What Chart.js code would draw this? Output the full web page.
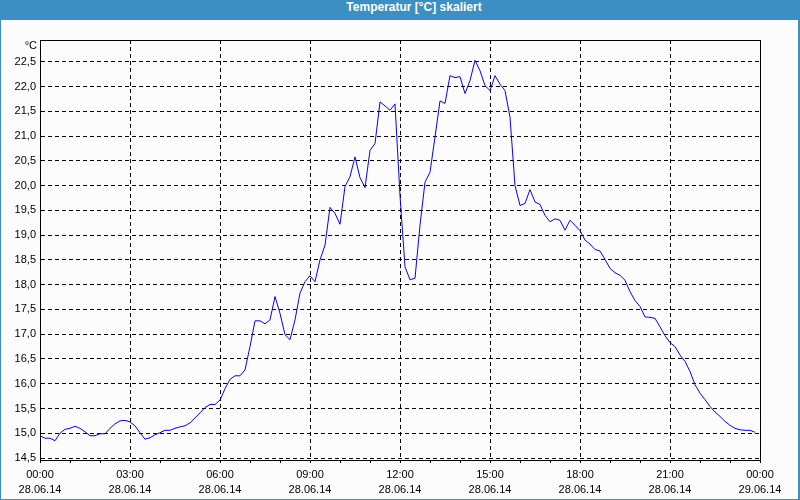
<!DOCTYPE html>
<html>
<head>
<meta charset="utf-8">
<script src="https://cdn.jsdelivr.net/npm/chart.js@4"></script>
<style>
  html, body { margin: 0; padding: 0; }
  #wrap { position: relative; width: 800px; height: 500px; background: #fbfcfb; overflow: hidden; }
  #frame { position: absolute; left: 0; top: 0; width: 797px; height: 499px; border-left: 1px solid #3b8fc3; border-right: 2px solid #3b8fc3; border-bottom: 1px solid #3b8fc3; box-sizing: content-box; pointer-events: none; }
  #titlebar { position: absolute; left: 0; top: 0; width: 800px; height: 20px; background: #3b8fc3; }
  #title { position: absolute; left: 0; top: 0; width: 828px; height: 20px; line-height: 20px; text-align: center; color: #fff; font: bold 12px "Liberation Sans", Arial, sans-serif; }
  #unit { position: absolute; left: 0; top: 39px; width: 37px; text-align: right; font: 11px "Liberation Sans", Arial, sans-serif; color: #000; }
  #cv { position: absolute; left: 0; top: 0; }
</style>
</head>
<body>
<div id="wrap">
  <canvas id="cv" width="800" height="500"></canvas>
  <div id="frame"></div>
  <div id="titlebar"></div>
  <div id="title">Temperatur [°C] skaliert</div>
  <div id="unit">°C</div>
</div>
<script>
// Time of each sample in minutes after 28.06.14 00:00
const minutes = [
  0, 10, 20, 30, 40, 50, 60, 70, 80, 90, 100, 110,
  120, 130, 140, 150, 160, 170, 180, 190, 200, 210, 220, 230,
  240, 250, 260, 270, 280, 290, 300, 310, 320, 330, 340, 350,
  360, 370, 380, 390, 400, 410, 420, 430, 440, 450, 460, 470,
  480, 490, 500, 510, 520, 530, 540, 550, 560, 570, 580, 590,
  600, 610, 620, 630, 640, 650, 660, 670, 680, 690, 700, 710,
  720, 730, 740, 750, 760, 770, 780, 790, 800, 810, 820, 830,
  840, 850, 860, 870, 880, 890, 900, 910, 920, 930, 940, 950,
  960, 970, 980, 990, 1000, 1010, 1020, 1030, 1040, 1050, 1060, 1070,
  1080, 1090, 1100, 1110, 1120, 1130, 1140, 1150, 1160, 1170, 1180, 1190,
  1200, 1210, 1220, 1230, 1240, 1250, 1260, 1270, 1280, 1290, 1300, 1310,
  1320, 1330, 1340, 1350, 1360, 1370, 1380, 1390, 1400, 1410, 1420, 1430
];
// Temperature in °C
const temperature = [
  14.95, 14.90, 14.90, 14.85, 15.00, 15.08, 15.10, 15.14, 15.10, 15.03, 14.95, 14.95,
  14.99, 14.99, 15.10, 15.19, 15.25, 15.26, 15.23, 15.15, 15.01, 14.88, 14.91, 14.97,
  15.01, 15.06, 15.06, 15.10, 15.13, 15.15, 15.21, 15.31, 15.41, 15.52, 15.58, 15.58,
  15.67, 15.90, 16.09, 16.16, 16.16, 16.28, 16.75, 17.27, 17.27, 17.21, 17.29, 17.76,
  17.42, 16.99, 16.89, 17.29, 17.83, 18.06, 18.18, 18.06, 18.50, 18.80, 19.56, 19.44,
  19.22, 19.98, 20.18, 20.58, 20.16, 19.96, 20.71, 20.85, 21.69, 21.61, 21.52, 21.65,
  19.80, 18.36, 18.10, 18.13, 19.20, 20.07, 20.27, 20.98, 21.71, 21.66, 22.22, 22.18,
  22.20, 21.86, 22.12, 22.53, 22.32, 22.02, 21.92, 22.22, 22.05, 21.92, 21.38, 20.00,
  19.60, 19.64, 19.92, 19.67, 19.62, 19.40, 19.27, 19.33, 19.30, 19.10, 19.30, 19.20,
  19.09, 18.90, 18.82, 18.71, 18.68, 18.51, 18.33, 18.24, 18.19, 18.09, 17.86, 17.68,
  17.56, 17.35, 17.34, 17.32, 17.15, 16.97, 16.83, 16.75, 16.58, 16.45, 16.25, 15.98,
  15.81, 15.68, 15.54, 15.43, 15.34, 15.24, 15.16, 15.10, 15.07, 15.06, 15.06, 15.02
];
// X tick labels every 3 hours
const tickTimes = ['00:00', '03:00', '06:00', '09:00', '12:00', '15:00', '18:00', '21:00', '00:00'];
const tickDates = ['28.06.14', '28.06.14', '28.06.14', '28.06.14', '28.06.14', '28.06.14', '28.06.14', '28.06.14', '29.06.14'];

const points = minutes.map((m, i) => ({ x: m, y: temperature[i] }));
const FONT = { family: '"Liberation Sans", Arial, sans-serif', size: 11 };

const frameBox = {
  id: 'frameBox',
  afterDraw(chart) {
    const a = chart.chartArea, ctx = chart.ctx;
    ctx.save();
    ctx.strokeStyle = '#000';
    ctx.lineWidth = 1;
    ctx.strokeRect(Math.round(a.left) + 0.5, Math.round(a.top) + 0.5, Math.round(a.right - a.left), Math.round(a.bottom - a.top));
    ctx.restore();
  }
};

new Chart(document.getElementById('cv'), {
  type: 'line',
  data: {
    datasets: [{
      data: points,
      borderColor: '#0000ff',
      borderWidth: 1,
      pointRadius: 0,
      tension: 0,
      fill: false
    }]
  },
  options: {
    responsive: false,
    animation: false,
    layout: { padding: { left: 0, top: 40, right: 40, bottom: 0 } },
    plugins: { legend: { display: false }, tooltip: { enabled: false }, title: { display: false } },
    scales: {
      x: {
        type: 'linear',
        min: 0, max: 1440,
        afterFit: s => { s.height = 40; },
        border: { display: true, color: '#000', width: 1 },
        grid: {
          color: c => (c.tick && c.tick.value % 180 === 0 && c.tick.value > 0 && c.tick.value < 1440) ? '#000' : 'rgba(0,0,0,0)',
          tickColor: '#000',
          tickLength: 3,
          drawTicks: true,
          lineWidth: 1,
          tickWidth: 1
        },
        ticks: {
          stepSize: 60,
          autoSkip: false,
          maxRotation: 0,
          padding: 4,
          color: '#000',
          font: Object.assign({ lineHeight: '15px' }, FONT),
          callback: v => (v % 180 === 0) ? [tickTimes[v / 180], tickDates[v / 180]] : ''
        }
      },
      y: {
        min: 14.46, max: 22.94,
        afterFit: s => { s.width = 40; },
        border: { display: true, color: '#000', width: 1, dash: [] },
        grid: {
          color: '#000',
          lineWidth: 1,
          drawTicks: false
        },
        ticks: {
          stepSize: 0.5,
          includeBounds: false,
          padding: 4,
          color: '#000',
          font: FONT,
          callback: v => v.toFixed(1).replace('.', ',')
        }
      }
    }
  },
  plugins: [frameBox, {
    id: 'dashGrid',
    beforeInit(chart) {
      chart.options.scales.x.border.dash = [4, 3];
      chart.options.scales.y.border.dash = [4, 3];
    }
  }]
});
</script>
</body>
</html>
